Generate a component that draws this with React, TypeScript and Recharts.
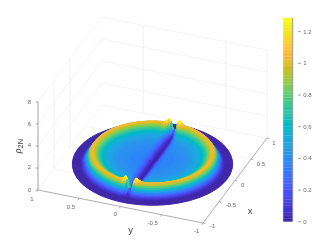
import React from "react";
import { ScatterChart, Scatter, XAxis, YAxis, ReferenceLine, BarChart, Bar } from "recharts";

const W = 332, H = 249;
// picture of the MATLAB view: ground position per data unit
const ORIGIN = [152.5, 164];
const UX = [32, -42.5];
const UY = [-82.5, -16.5];
const UZ = 11;

const xTicks = [-1, -0.5, 0, 0.5, 1];
const yTicks = [1, 0.5, 0, -0.5, -1];
const zTicks = [0, 2, 4, 6, 8];
const cbTicks = [0, 0.2, 0.4, 0.6, 0.8, 1, 1.2];
const cbMax = 1.286;
const diskRadius = 0.905;

// density along a radius
const radii = [0, 0.1, 0.2, 0.3, 0.4, 0.45, 0.5, 0.54, 0.58, 0.6, 0.64, 0.66, 0.68, 0.7, 0.72, 0.74, 0.76, 0.78, 0.8, 0.82, 0.905];
const rhoRadial = [0.36, 0.36, 0.37, 0.39, 0.42, 0.45, 0.5, 0.56, 0.65, 0.72, 0.9, 1.0, 1.06, 1.0, 0.76, 0.5, 0.3, 0.15, 0.05, 0, 0];
// dark stripe: factor against distance from the line y = 0
const stripeDist = [0, 0.01, 0.02, 0.03, 0.04, 0.05, 0.06, 0.07, 0.08, 0.09, 0.1, 0.12];
const stripeFactor = [0, 0.03, 0.1, 0.2, 0.33, 0.47, 0.6, 0.72, 0.82, 0.9, 0.96, 1];
// stripe narrows toward the ring
const widthRadius = [0, 0.4, 0.6, 0.68, 0.905];
const widthScale = [1, 1, 0.85, 0.6, 0.5];
// rise of the ring next to the stripe
const riseDist = [0, 0.08, 0.1, 0.12, 0.15, 0.2, 0.22];
const riseFactor = [1.5, 1.5, 1.42, 1.28, 1.12, 1.02, 1];

const PARULA = [
[.2422,.1504,.6603],[.2504,.1650,.7076],[.2578,.1818,.7511],[.2647,.1978,.7952],[.2706,.2147,.8364],[.2751,.2342,.8710],[.2783,.2559,.8991],[.2803,.2782,.9221],
[.2813,.3006,.9414],[.2810,.3228,.9579],[.2795,.3447,.9717],[.2760,.3667,.9829],[.2699,.3892,.9906],[.2602,.4123,.9952],[.2440,.4358,.9988],[.2206,.4603,.9973],
[.1963,.4847,.9892],[.1834,.5074,.9798],[.1786,.5289,.9682],[.1764,.5499,.9520],[.1687,.5703,.9359],[.1540,.5902,.9218],[.1460,.6091,.9079],[.1380,.6276,.8973],
[.1248,.6459,.8883],[.1113,.6635,.8763],[.0952,.6798,.8598],[.0689,.6948,.8394],[.0297,.7082,.8163],[.0036,.7203,.7917],[.0067,.7312,.7660],[.0433,.7411,.7394],
[.0964,.7500,.7120],[.1408,.7584,.6842],[.1717,.7670,.6554],[.1938,.7758,.6251],[.2161,.7843,.5923],[.2470,.7918,.5567],[.2906,.7973,.5188],[.3406,.8008,.4789],
[.3909,.8029,.4354],[.4456,.8024,.3909],[.5044,.7993,.3480],[.5616,.7942,.3045],[.6174,.7876,.2612],[.6720,.7793,.2227],[.7242,.7698,.1910],[.7738,.7598,.1646],
[.8203,.7498,.1535],[.8634,.7406,.1596],[.9035,.7330,.1774],[.9393,.7288,.2100],[.9728,.7298,.2394],[.9956,.7434,.2371],[.9970,.7659,.2199],[.9952,.7893,.2028],
[.9892,.8136,.1885],[.9786,.8386,.1766],[.9676,.8639,.1643],[.9610,.8890,.1537],[.9597,.9135,.1423],[.9628,.9373,.1265],[.9691,.9606,.1064],[.9769,.9839,.0805],
];
const hex = (c: number[]) => "rgb(" + c.map((v) => Math.round(v * 255)).join(",") + ")";
const colour = (rho: number) => {
  const i = Math.max(0, Math.min(63, Math.round((rho / cbMax) * 63)));
  return hex(PARULA[i]);
};

const lookup = (xs: number[], ys: number[], v: number) => {
  if (v <= xs[0]) return ys[0];
  for (let i = 1; i < xs.length; i++) {
    if (v <= xs[i]) {
      const t = (v - xs[i - 1]) / (xs[i] - xs[i - 1]);
      return ys[i - 1] + t * (ys[i] - ys[i - 1]);
    }
  }
  return ys[ys.length - 1];
};

const project = (x: number, y: number, z: number) => [
  ORIGIN[0] + UX[0] * x + UY[0] * y,
  ORIGIN[1] + UX[1] * x + UY[1] * y - UZ * z,
];

const density = (r: number, th: number) => {
  const y = r * Math.sin(th);
  const d = Math.abs(y) / lookup(widthRadius, widthScale, r);
  const p = lookup(radii, rhoRadial, r);
  const w = Math.max(0, Math.min(1, (p - 0.5) / 0.5));
  const rise = 1 + (lookup(riseDist, riseFactor, d) - 1) * w;
  return p * lookup(stripeDist, stripeFactor, d) * rise;
};

const rings: number[] = [];
for (let r = 0; r < 0.5; r += 0.025) rings.push(r);
for (let r = 0.5; r < 0.82; r += 0.01) rings.push(r);
rings.push(0.82, diskRadius);
const SECT = 200;

type Cell = { px: number; py: number; pts: number[]; fill: string; depth: number };
const cells: Cell[] = [];
for (let i = 0; i < rings.length - 1; i++) {
  for (let j = 0; j < SECT; j++) {
    const a0 = (j / SECT) * 2 * Math.PI, a1 = ((j + 1) / SECT) * 2 * Math.PI;
    const corners = [[rings[i], a0], [rings[i + 1], a0], [rings[i + 1], a1], [rings[i], a1]];
    const vals = corners.map(([r, a]) => density(r, a));
    const mean = vals.reduce((s, v) => s + v, 0) / 4;
    const pp = corners.map(([r, a], k) => project(r * Math.cos(a), r * Math.sin(a), vals[k]));
    const px = pp.reduce((s, p) => s + p[0], 0) / 4;
    const py = pp.reduce((s, p) => s + p[1], 0) / 4;
    const rm = (rings[i] + rings[i + 1]) / 2, am = (a0 + a1) / 2;
    const ground = project(rm * Math.cos(am), rm * Math.sin(am), 0);
    cells.push({
      px, py, depth: ground[1], fill: colour(mean),
      pts: pp.flatMap((p) => [p[0] - px, p[1] - py]),
    });
  }
}
cells.sort((a, b) => a.depth - b.depth);

const GridC = "#efefef", AxisC = "#8c8c8c", TextC = "#666666";
type Seg = { a: number[]; b: number[]; c: string; w: number };
const segs: Seg[] = [];
const L = (a: number[], b: number[], c: string, w: number) => segs.push({ a, b, c, w });

zTicks.forEach((z) => {
  L(project(-1, 1, z), project(1, 1, z), GridC, 0.7);
  L(project(1, 1, z), project(1, -1, z), GridC, 0.7);
});
[-0.5, 0].forEach((x) => L(project(x, 1, 0), project(x, 1, 8), GridC, 0.9));
[0.5, -0.5, -1].forEach((y) => L(project(1, y, 0), project(1, y, 8), GridC, 0.9));
xTicks.slice(1, 4).forEach((x) => L(project(x, 1, 0), project(x, -1, 0), GridC, 0.6));
yTicks.slice(1, 4).forEach((y) => L(project(-1, y, 0), project(1, y, 0), GridC, 0.6));
// box axes
L(project(-1, 1, 0), project(-1, 1, 8), AxisC, 0.8);
L(project(-1, 1, 0), project(-1, -1, 0), AxisC, 0.7);
L(project(-1, -1, 0), project(1, -1, 0), AxisC, 0.7);
zTicks.forEach((z) => { const p = project(-1, 1, z); L(p, [p[0] - 2.5, p[1]], AxisC, 0.7); });
yTicks.forEach((y) => { const p = project(-1, y, 0); L(p, [p[0] - 1.4, p[1] + 1.9], AxisC, 0.7); });
xTicks.forEach((x) => { const p = project(x, -1, 0); L(p, [p[0] + 2.3, p[1] + 0.5], AxisC, 0.7); });

const labelText = ["0", "2", "4", "6", "8", "1", "0.5", "0", "-0.5", "-1", "-1", "-0.5", "0", "0.5", "1"];
const labelX = [29.5, 29.5, 29.5, 29.5, 29.5, 32, 71, 115.3, 152.7, 196.7, 212.7, 231, 242.7, 261, 274];
const labelY = [189.5, 167, 145, 123.5, 102, 199, 206.7, 214, 222.7, 230.7, 226, 205.3, 184.7, 163.7, 142.7];
const labels = labelText.map((t, i) => ({ px: labelX[i], py: labelY[i], t }));

const titles = [
  { px: 130.7, py: 229.3, t: "y" },
  { px: 250, py: 210, t: "x" },
];

const FONT = "'Liberation Sans', Arial, sans-serif";

const CellShape = (p: any) => {
  const c: Cell = p.payload;
  const s = c.pts;
  const points = `${p.cx + s[0]},${p.cy + s[1]} ${p.cx + s[2]},${p.cy + s[3]} ${p.cx + s[4]},${p.cy + s[5]} ${p.cx + s[6]},${p.cy + s[7]}`;
  return <polygon points={points} fill={c.fill} stroke={c.fill} strokeWidth={0.9} strokeLinejoin="round" />;
};
const TickLabel = (p: any) => (
  <text x={p.cx} y={p.cy} textAnchor="middle" dominantBaseline="central" fontSize={6} fontFamily={FONT} fill={TextC}>
    {p.payload.t}
  </text>
);
const TitleLabel = (p: any) => (
  <text x={p.cx} y={p.cy} textAnchor="middle" dominantBaseline="central" fontSize={9.5} fontFamily={FONT} fill="#404040">
    {p.payload.t}
  </text>
);
const RhoLabel = (p: any) => (
  <text transform={`translate(${p.cx},${p.cy}) rotate(-90)`} textAnchor="middle" fontFamily={FONT} fill="#404040">
    <tspan fontSize={10} fontStyle="italic" fontFamily="'Liberation Serif', serif">ρ</tspan>
    <tspan fontSize={7.5} dy={2}>2N</tspan>
  </text>
);

const cbRow: Record<string, number | string> = { name: "cb" };
PARULA.forEach((_, i) => { cbRow["c" + i] = cbMax / 64; });
const cbData = [cbRow];

const CbTick = (p: any) => (
  <g>
    <line x1={p.x - 2.5} x2={p.x} y1={p.y} y2={p.y} stroke="#606060" strokeWidth={0.7} />
    <text x={p.x + 2.5} y={p.y} dominantBaseline="central" fontSize={6} fontFamily={FONT} fill={TextC}>
      {p.payload.value}
    </text>
  </g>
);

export default function App() {
  return (
    <div style={{ position: "absolute", left: 0, top: 0, width: W, height: H, background: "#fff", filter: "blur(0.3px)" }}>
      <div style={{ position: "absolute", left: 0, top: 0 }}>
        <ScatterChart width={W} height={H} margin={{ top: 0, right: 0, bottom: 0, left: 0 }}>
          <XAxis type="number" dataKey="px" domain={[0, W]} hide allowDataOverflow />
          <YAxis type="number" dataKey="py" domain={[0, H]} reversed hide allowDataOverflow />
          {segs.map((s, i) => (
            <ReferenceLine key={i} segment={[{ x: s.a[0], y: s.a[1] }, { x: s.b[0], y: s.b[1] }]} stroke={s.c} strokeWidth={s.w} />
          ))}
          <Scatter data={cells} shape={CellShape} isAnimationActive={false} />
          <Scatter data={labels} shape={TickLabel} isAnimationActive={false} />
          <Scatter data={titles} shape={TitleLabel} isAnimationActive={false} />
          <Scatter data={[{ px: 21, py: 146 }]} shape={RhoLabel} isAnimationActive={false} />
        </ScatterChart>
      </div>
      <div style={{ position: "absolute", left: 272, top: 0 }}>
        <BarChart width={60} height={H} data={cbData} barCategoryGap={0} margin={{ top: 18, right: 0, bottom: 27.3, left: 11.3 }}>
          <XAxis dataKey="name" hide />
          <YAxis
            orientation="right" type="number" domain={[0, cbMax]} ticks={cbTicks} width={39.3}
            allowDataOverflow tick={CbTick} tickLine={false} axisLine={{ stroke: "#808080", strokeWidth: 0.8 }}
            interval={0}
          />
          {PARULA.map((c, i) => (
            <Bar key={i} dataKey={"c" + i} stackId="cb" fill={hex(c)} stroke={hex(c)} strokeWidth={0.3} isAnimationActive={false} />
          ))}
        </BarChart>
      </div>
    </div>
  );
}
